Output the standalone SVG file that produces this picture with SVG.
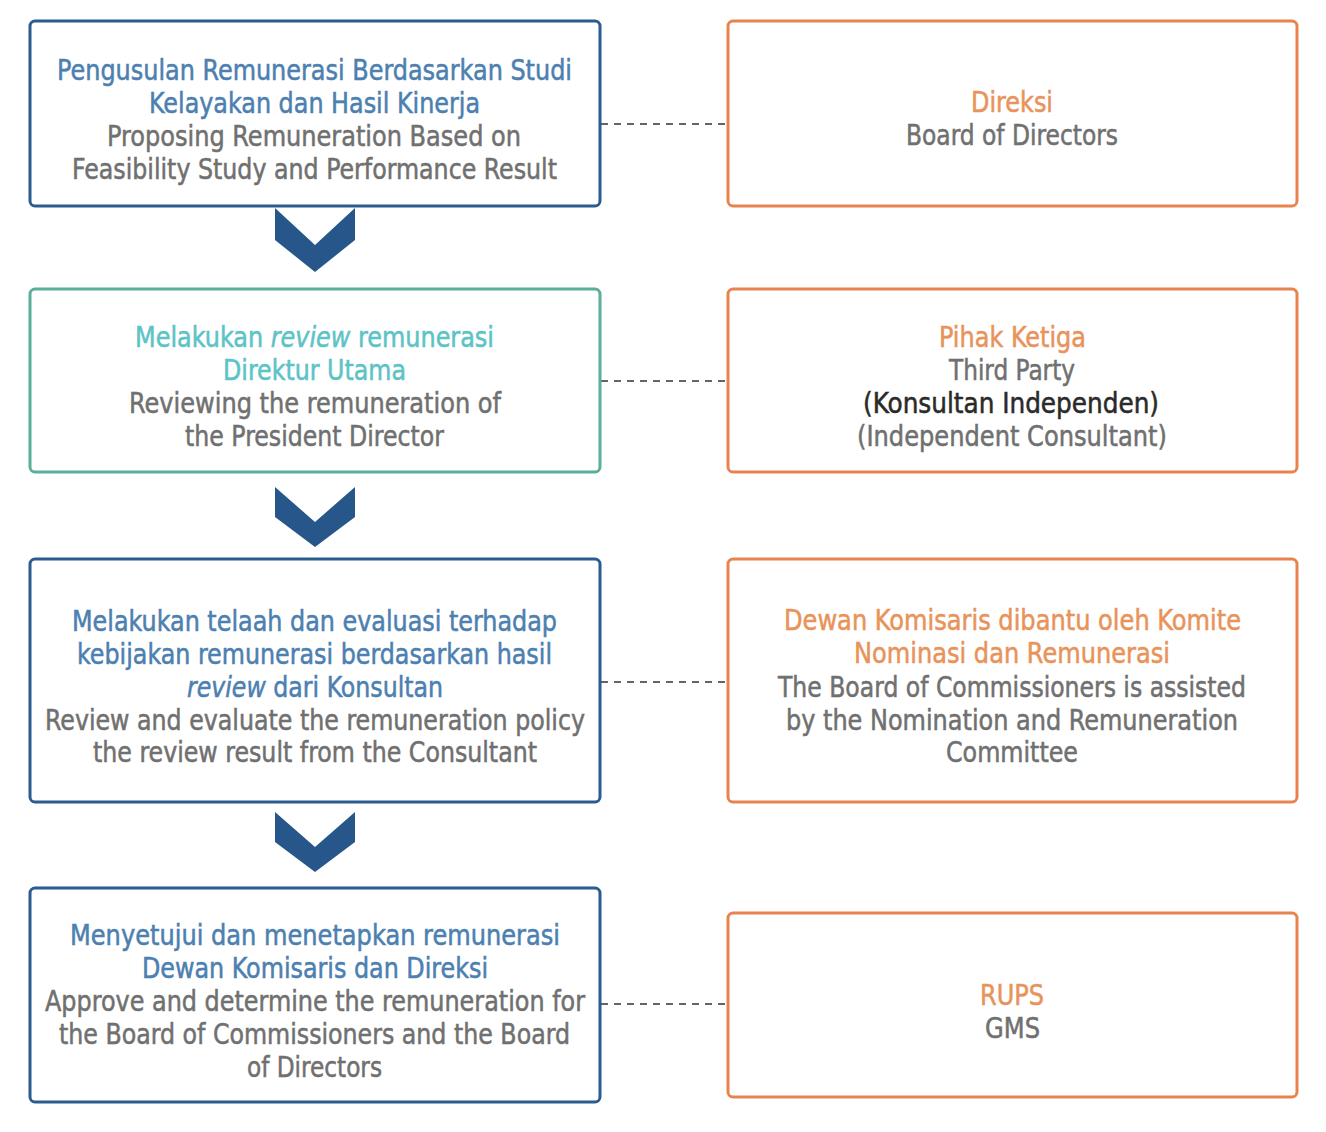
<svg xmlns="http://www.w3.org/2000/svg" width="1326" height="1132" viewBox="0 0 1326 1132">
<style>
text{font-family:"Liberation Sans Narrow","DejaVu Sans Condensed","Liberation Sans",sans-serif;font-stretch:condensed;font-size:28px;text-anchor:middle;stroke-width:0.5px}
.bx{fill:#fff;stroke-width:3}
.b{stroke:#2B5C8F}
.g{stroke:#5BAE98}
.o{stroke:#E8834E}
.tb{fill:#4C80B0;stroke:#4C80B0}
.tt{fill:#5CC3C6;stroke:#5CC3C6}
.to{fill:#E8935A;stroke:#E8935A}
.gr{fill:#707070;stroke:#707070}
.dk{fill:#2a2a2a;stroke:#2a2a2a}
.dash{stroke:#333;stroke-width:1.6;stroke-dasharray:7 6;fill:none}
.chev{fill:#26568A}
</style>
<rect width="1326" height="1132" fill="#fff"/>
<g id="connectors">
<line class="dash" x1="601" y1="124" x2="726" y2="124"/>
<line class="dash" x1="601" y1="381" x2="726" y2="381"/>
<line class="dash" x1="601" y1="682" x2="726" y2="682"/>
<line class="dash" x1="601" y1="1004" x2="726" y2="1004"/>
<polygon class="chev" points="275,208 315,245 355,208 355,240 315,272 275,240"/>
<polygon class="chev" points="275,487 315,522 355,487 355,517 315,547 275,517"/>
<polygon class="chev" points="275,812 315,847 355,812 355,842 315,872 275,842"/>
</g>
<g id="n1">
<rect class="bx b" x="30" y="21" width="570" height="185" rx="5"/>
<text class="tb" x="314.5" y="80" textLength="515" lengthAdjust="spacingAndGlyphs">Pengusulan Remunerasi Berdasarkan Studi</text>
<text class="tb" x="314.5" y="113" textLength="331" lengthAdjust="spacingAndGlyphs">Kelayakan dan Hasil Kinerja</text>
<text class="gr" x="314" y="146" textLength="414" lengthAdjust="spacingAndGlyphs">Proposing Remuneration Based on</text>
<text class="gr" x="314.5" y="179" textLength="485" lengthAdjust="spacingAndGlyphs">Feasibility Study and Performance Result</text>
</g>
<g id="n2">
<rect class="bx g" x="30" y="289" width="570" height="183" rx="5"/>
<text class="tt" x="314.5" y="347" textLength="359" lengthAdjust="spacingAndGlyphs">Melakukan <tspan font-style="italic">review</tspan> remunerasi</text>
<text class="tt" x="314.5" y="380" textLength="183" lengthAdjust="spacingAndGlyphs">Direktur Utama</text>
<text class="gr" x="315" y="413" textLength="372" lengthAdjust="spacingAndGlyphs">Reviewing the remuneration of</text>
<text class="gr" x="314.5" y="446" textLength="259" lengthAdjust="spacingAndGlyphs">the President Director</text>
</g>
<g id="n3">
<rect class="bx b" x="30" y="559" width="570" height="243" rx="5"/>
<text class="tb" x="314.5" y="631" textLength="485" lengthAdjust="spacingAndGlyphs">Melakukan telaah dan evaluasi terhadap</text>
<text class="tb" x="314.5" y="664" textLength="475" lengthAdjust="spacingAndGlyphs">kebijakan remunerasi berdasarkan hasil</text>
<text class="tb" x="315" y="697" textLength="256" lengthAdjust="spacingAndGlyphs"><tspan font-style="italic">review</tspan> dari Konsultan</text>
<text class="gr" x="315" y="730" textLength="540" lengthAdjust="spacingAndGlyphs">Review and evaluate the remuneration policy</text>
<text class="gr" x="315" y="762" textLength="444" lengthAdjust="spacingAndGlyphs">the review result from the Consultant</text>
</g>
<g id="n4">
<rect class="bx b" x="30" y="888" width="570" height="214" rx="5"/>
<text class="tb" x="315" y="945" textLength="490" lengthAdjust="spacingAndGlyphs">Menyetujui dan menetapkan remunerasi</text>
<text class="tb" x="315" y="978" textLength="346" lengthAdjust="spacingAndGlyphs">Dewan Komisaris dan Direksi</text>
<text class="gr" x="315" y="1011" textLength="540" lengthAdjust="spacingAndGlyphs">Approve and determine the remuneration for</text>
<text class="gr" x="314.5" y="1044" textLength="511" lengthAdjust="spacingAndGlyphs">the Board of Commissioners and the Board</text>
<text class="gr" x="314.5" y="1077" textLength="135" lengthAdjust="spacingAndGlyphs">of Directors</text>
</g>
<g id="r1">
<rect class="bx o" x="728" y="21" width="569" height="185" rx="5"/>
<text class="to" x="1012" y="112" textLength="82" lengthAdjust="spacingAndGlyphs">Direksi</text>
<text class="gr" x="1012" y="145" textLength="212" lengthAdjust="spacingAndGlyphs">Board of Directors</text>
</g>
<g id="r2">
<rect class="bx o" x="728" y="289" width="569" height="183" rx="5"/>
<text class="to" x="1012.5" y="347" textLength="147" lengthAdjust="spacingAndGlyphs">Pihak Ketiga</text>
<text class="gr" x="1012" y="380" textLength="126" lengthAdjust="spacingAndGlyphs">Third Party</text>
<text class="dk" x="1011" y="413" textLength="296" lengthAdjust="spacingAndGlyphs">(Konsultan Independen)</text>
<text class="gr" x="1012" y="446" textLength="310" lengthAdjust="spacingAndGlyphs">(Independent Consultant)</text>
</g>
<g id="r3">
<rect class="bx o" x="728" y="559" width="569" height="243" rx="5"/>
<text class="to" x="1012.5" y="630" textLength="457" lengthAdjust="spacingAndGlyphs">Dewan Komisaris dibantu oleh Komite</text>
<text class="to" x="1012" y="663" textLength="316" lengthAdjust="spacingAndGlyphs">Nominasi dan Remunerasi</text>
<text class="gr" x="1012" y="697" textLength="468" lengthAdjust="spacingAndGlyphs">The Board of Commissioners is assisted</text>
<text class="gr" x="1012" y="730" textLength="452" lengthAdjust="spacingAndGlyphs">by the Nomination and Remuneration</text>
<text class="gr" x="1012" y="762" textLength="132" lengthAdjust="spacingAndGlyphs">Committee</text>
</g>
<g id="r4">
<rect class="bx o" x="728" y="913" width="569" height="184" rx="5"/>
<text class="to" x="1012" y="1005" textLength="64" lengthAdjust="spacingAndGlyphs">RUPS</text>
<text class="gr" x="1012.5" y="1038" textLength="55" lengthAdjust="spacingAndGlyphs">GMS</text>
</g>
</svg>
